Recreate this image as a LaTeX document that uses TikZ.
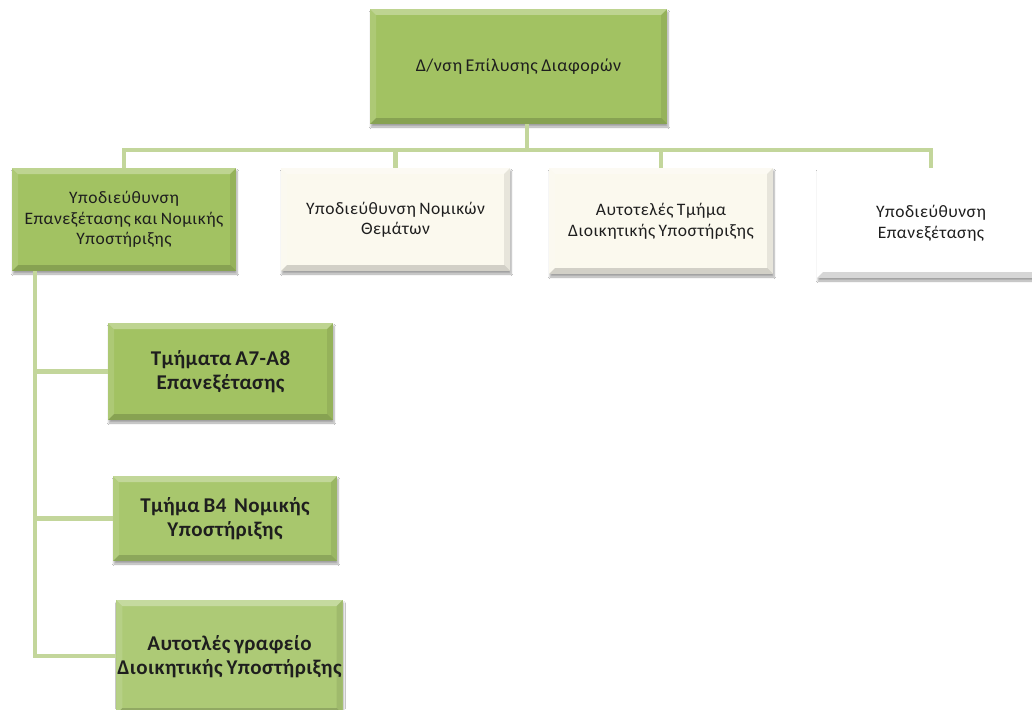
\documentclass[tikz,border=0pt]{standalone}
\usepackage{fontspec}
\setmainfont{Carlito}
\newfontfamily\topfam{Carlito}[LetterSpace=3,WordSpace=0.9]
\newfontfamily\lvlfam{Carlito}[LetterSpace=3,WordSpace=0.75]
\newfontfamily\subfam{Carlito}[LetterSpace=2,WordSpace=0.75]
\usetikzlibrary{shadows.blur}
\definecolor{grn}{HTML}{A2C262}
\definecolor{grnB}{HTML}{A8C76D}
\definecolor{grnC}{HTML}{ADCA76}
\definecolor{cream}{HTML}{FBF9EE}
\definecolor{conn}{HTML}{C3D69B}
\definecolor{txt}{HTML}{1E1E1E}
\tikzset{
  bevel/.style={path picture={
    \fill[white,opacity=.30] (path picture bounding box.north west) -- (path picture bounding box.north east)
      -- ([xshift=-6pt,yshift=-6pt]path picture bounding box.north east) -- ([xshift=6pt,yshift=-6pt]path picture bounding box.north west) -- cycle;
    \fill[white,opacity=.12] (path picture bounding box.north west) -- ([xshift=6pt,yshift=-6pt]path picture bounding box.north west)
      -- ([xshift=6pt,yshift=6pt]path picture bounding box.south west) -- (path picture bounding box.south west) -- cycle;
    \fill[black,opacity=.08] (path picture bounding box.north east) -- (path picture bounding box.south east)
      -- ([xshift=-6pt,yshift=6pt]path picture bounding box.south east) -- ([xshift=-6pt,yshift=-6pt]path picture bounding box.north east) -- cycle;
    \fill[black,opacity=.16] (path picture bounding box.south west) -- ([xshift=6pt,yshift=6pt]path picture bounding box.south west)
      -- ([xshift=-6pt,yshift=6pt]path picture bounding box.south east) -- (path picture bounding box.south east) -- cycle;
  }},
  box/.style={rectangle, bevel, align=center, text=txt, inner sep=1pt,
    blur shadow={shadow xshift=1pt, shadow yshift=-3pt, shadow blur steps=6, shadow opacity=35}},
  topf/.style={box, font=\topfam\fontsize{18}{22}\selectfont},
  lvl/.style={box, font=\lvlfam\fontsize{17.5}{20.5}\selectfont},
  sub/.style={box, font=\subfam\fontsize{21}{24}\selectfont\bfseries},
  conn/.style={draw=conn, line width=4.5pt}
}
\begin{document}
\begin{tikzpicture}[x=1pt,y=-1pt]
\useasboundingbox[fill=white] (0,0) rectangle (1032,709);
% nodes
\node[topf, fill=grn, minimum width=297pt, minimum height=115pt] (top) at (518.5,66.5) {Δ/νση Επίλυσης Διαφορών};
\node[lvl, fill=grn, minimum width=224pt, minimum height=103pt] (b1) at (124,219.5) {Υποδιεύθυνση\\Επανεξέτασης και Νομικής\\Υποστήριξης};
\node[lvl, fill=cream, minimum width=229pt, minimum height=103pt] (b2) at (395.5,219.5) {Υποδιεύθυνση Νομικών\\Θεμάτων};
\node[lvl, fill=cream, minimum width=224pt, minimum height=106pt] (b3) at (661,221) {Αυτοτελές Τμήμα\\Διοικητικής Υποστήριξης};
\node[lvl, fill=white, minimum width=228pt, minimum height=110pt] (b4) at (931,223) {Υποδιεύθυνση\\Επανεξέτασης};
\node[sub, fill=grn, minimum width=225pt, minimum height=97pt] (sa) at (220.5,371.5) {Τμήματα Α7-Α8\\Επανεξέτασης};
\node[sub, fill=grnB, minimum width=224pt, minimum height=85pt] (sb) at (225,518.5) {Τμήμα Β4\ \ Νομικής\\Υποστήριξης};
\node[sub, fill=grnC, minimum width=223pt, minimum height=114pt] (sc) at (229.5,657) {Αυτοτλές γραφείο\\Διοικητικής Υποστήριξης};
% connectors
\coordinate (bus) at (527,150);
\coordinate (trunk) at (35,656);
\draw[conn] (bus |- top.south) -- (bus);
\draw[conn] (b1.north) |- (bus) -| (b4.north);
\draw[conn] (b2.north) -- (b2.north |- bus);
\draw[conn] (b3.north) -- (b3.north |- bus);
\draw[conn] (trunk |- b1.south) -- (trunk) -- (trunk -| sc.west);
\draw[conn] (trunk |- sa.west) -- (sa.west);
\draw[conn] (trunk |- sb.west) -- (sb.west);
\end{tikzpicture}
\end{document}
